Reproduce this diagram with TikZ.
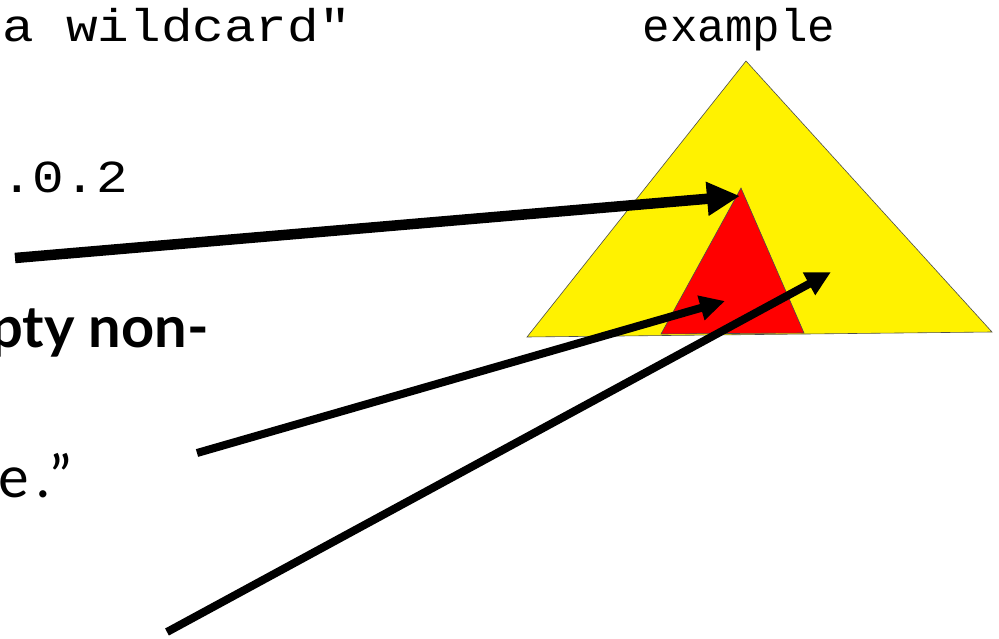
\documentclass[tikz,border=0pt]{standalone}
\usepackage{fontspec}
\setmainfont{Lato}
\newfontfamily\monofont{Liberation Mono}
\newfontfamily\widemono[FakeStretch=1.15]{Liberation Mono}
\newfontfamily\spacedsans[LetterSpace=12]{Lato}
\usetikzlibrary{arrows.meta}
\begin{document}
\begin{tikzpicture}[x=1bp,y=-1bp,
  mono/.style={font=\widemono\fontsize{46}{46}\selectfont, inner sep=0pt, anchor=base east},
  gill/.style={font=\fontsize{58}{58}\selectfont, inner sep=0pt, anchor=base east},
  bigarrow/.style={line width=10.5bp, -{Triangle[length=33bp,width=32bp]}},
  arrowline/.style={line width=8bp, -{Triangle[length=25bp,width=24bp]}}]
\useasboundingbox (0,0) rectangle (999,639);
% triangles
\draw[fill=yellow, draw=black!70, line width=0.6bp] (746,61) -- (992,332) -- (527,337) -- cycle;
\draw[fill=red, draw=black!70, line width=0.6bp] (741,188) -- (804,333) -- (661,334) -- cycle;
% texts
\node[mono] (t1) at (351,42) {a wildcard"};
\node[mono] (t2) at (128,193) {.0.2};
\node[mono, font=\monofont\fontsize{46}{46}\selectfont, anchor=base] (t3) at (739,42) {example};
\node[gill, font=\bfseries\fontsize{58}{58}\selectfont] (t4) at (209,347) {pty non-};
\node[gill, font=\spacedsans\fontsize{58}{58}\selectfont] (t5) at (72,497) {e.”};
% arrow ends
\coordinate (a1s) at (15,258);
\coordinate (a1e) at (740,196);
\coordinate (a2s) at (197,453);
\coordinate (a2e) at (725,301);
\coordinate (a3s) at (167,632);
\coordinate (a3e) at (831,272);
\draw[bigarrow] (a1s) -- (a1e);
\draw[arrowline] (a2s) -- (a2e);
\draw[arrowline] (a3s) -- (a3e);
\end{tikzpicture}
\end{document}
